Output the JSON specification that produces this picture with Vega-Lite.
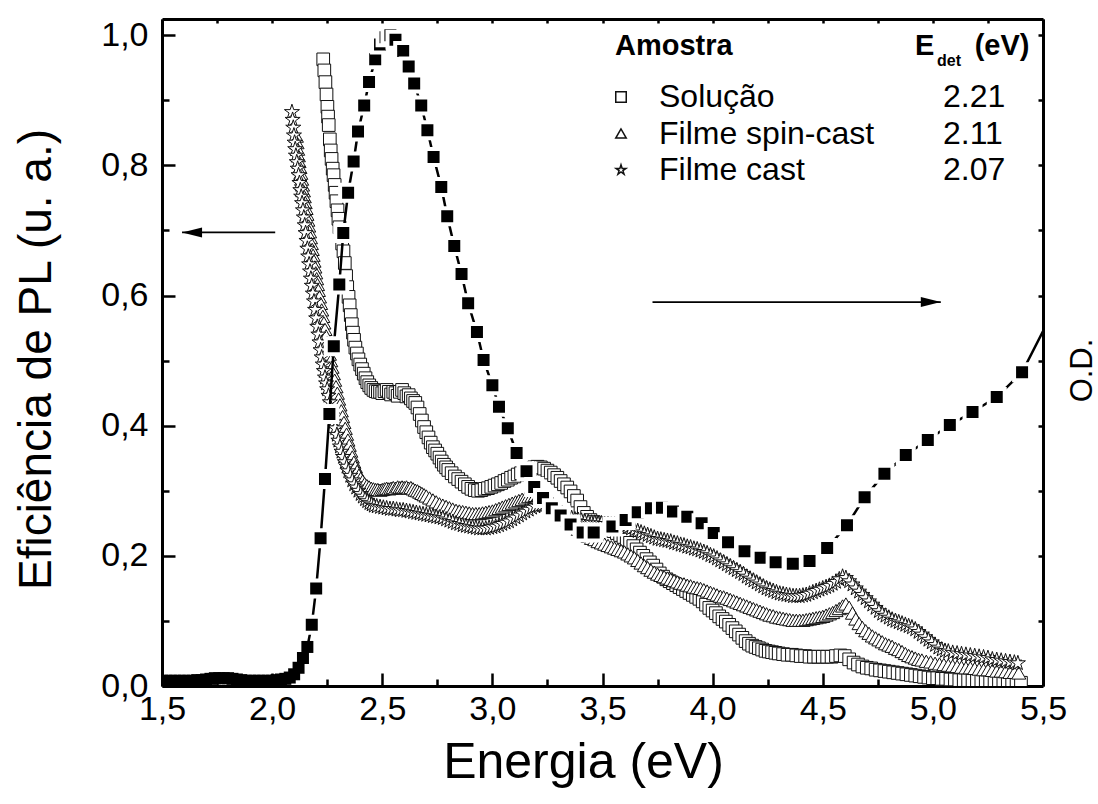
{
"$schema":"https://vega.github.io/schema/vega-lite/v6.json",
"width":881,"height":667,
"autosize":{"type":"none"},
"padding":{"left":162,"top":19,"right":55,"bottom":118},
"background":"white",
"title":{"text":"det","anchor":"start","frame":"group","orient":"top","offset":0,"dx":775,"dy":59,"fontSize":16,"fontWeight":"bold","baseline":"middle","color":"black","font":"Liberation Sans"},
"config":{"font":"Liberation Sans","view":{"stroke":null},"axis":{"grid":false,"domainColor":"black","tickColor":"black","labelColor":"black","titleColor":"black","domainWidth":3,"tickWidth":2.5,"labelFlush":false,"labelOverlap":false,"labelBound":false,"titleFontWeight":"normal"}},
"datasets":{
"sol":[{"x":2.232,"y":0.963},{"x":2.237,"y":0.946},{"x":2.242,"y":0.928},{"x":2.247,"y":0.909},{"x":2.251,"y":0.89},{"x":2.254,"y":0.875},{"x":2.257,"y":0.862},{"x":2.262,"y":0.84},{"x":2.266,"y":0.823},{"x":2.27,"y":0.81},{"x":2.275,"y":0.795},{"x":2.279,"y":0.785},{"x":2.284,"y":0.77},{"x":2.288,"y":0.758},{"x":2.292,"y":0.745},{"x":2.297,"y":0.731},{"x":2.301,"y":0.718},{"x":2.306,"y":0.705},{"x":2.312,"y":0.692},{"x":2.318,"y":0.68},{"x":2.324,"y":0.668},{"x":2.33,"y":0.65},{"x":2.336,"y":0.63},{"x":2.341,"y":0.613},{"x":2.347,"y":0.598},{"x":2.352,"y":0.585},{"x":2.357,"y":0.57},{"x":2.362,"y":0.556},{"x":2.367,"y":0.543},{"x":2.372,"y":0.532},{"x":2.378,"y":0.52},{"x":2.385,"y":0.511},{"x":2.392,"y":0.502},{"x":2.4,"y":0.494},{"x":2.408,"y":0.487},{"x":2.416,"y":0.48},{"x":2.424,"y":0.473},{"x":2.432,"y":0.467},{"x":2.441,"y":0.462},{"x":2.45,"y":0.458},{"x":2.46,"y":0.455},{"x":2.47,"y":0.453},{"x":2.48,"y":0.452},{"x":2.49,"y":0.452},{"x":2.5,"y":0.45},{"x":2.51,"y":0.453},{"x":2.52,"y":0.455},{"x":2.53,"y":0.452},{"x":2.54,"y":0.448},{"x":2.55,"y":0.452},{"x":2.56,"y":0.45},{"x":2.57,"y":0.446},{"x":2.58,"y":0.452},{"x":2.59,"y":0.455},{"x":2.6,"y":0.45},{"x":2.61,"y":0.445},{"x":2.62,"y":0.447},{"x":2.63,"y":0.442},{"x":2.64,"y":0.438},{"x":2.65,"y":0.435},{"x":2.66,"y":0.428},{"x":2.67,"y":0.418},{"x":2.68,"y":0.408},{"x":2.69,"y":0.398},{"x":2.7,"y":0.39},{"x":2.71,"y":0.382},{"x":2.72,"y":0.374},{"x":2.73,"y":0.367},{"x":2.74,"y":0.362},{"x":2.75,"y":0.357},{"x":2.76,"y":0.351},{"x":2.77,"y":0.345},{"x":2.78,"y":0.34},{"x":2.79,"y":0.336},{"x":2.8,"y":0.332},{"x":2.815,"y":0.327},{"x":2.83,"y":0.322},{"x":2.845,"y":0.318},{"x":2.86,"y":0.314},{"x":2.875,"y":0.31},{"x":2.89,"y":0.306},{"x":2.905,"y":0.303},{"x":2.92,"y":0.301},{"x":2.935,"y":0.3},{"x":2.95,"y":0.301},{"x":2.965,"y":0.303},{"x":2.98,"y":0.304},{"x":2.995,"y":0.306},{"x":3.01,"y":0.308},{"x":3.025,"y":0.31},{"x":3.04,"y":0.312},{"x":3.055,"y":0.315},{"x":3.07,"y":0.317},{"x":3.085,"y":0.32},{"x":3.1,"y":0.322},{"x":3.115,"y":0.325},{"x":3.13,"y":0.327},{"x":3.145,"y":0.33},{"x":3.16,"y":0.332},{"x":3.175,"y":0.334},{"x":3.19,"y":0.336},{"x":3.205,"y":0.337},{"x":3.22,"y":0.336},{"x":3.235,"y":0.334},{"x":3.25,"y":0.331},{"x":3.265,"y":0.328},{"x":3.28,"y":0.324},{"x":3.295,"y":0.32},{"x":3.31,"y":0.315},{"x":3.325,"y":0.31},{"x":3.34,"y":0.305},{"x":3.355,"y":0.299},{"x":3.37,"y":0.292},{"x":3.385,"y":0.285},{"x":3.4,"y":0.275},{"x":3.415,"y":0.266},{"x":3.43,"y":0.26},{"x":3.445,"y":0.255},{"x":3.46,"y":0.252},{"x":3.475,"y":0.25},{"x":3.49,"y":0.248},{"x":3.505,"y":0.246},{"x":3.52,"y":0.244},{"x":3.535,"y":0.241},{"x":3.55,"y":0.238},{"x":3.565,"y":0.235},{"x":3.58,"y":0.232},{"x":3.595,"y":0.229},{"x":3.61,"y":0.225},{"x":3.625,"y":0.22},{"x":3.64,"y":0.215},{"x":3.655,"y":0.21},{"x":3.67,"y":0.205},{"x":3.685,"y":0.2},{"x":3.7,"y":0.195},{"x":3.715,"y":0.19},{"x":3.73,"y":0.185},{"x":3.745,"y":0.179},{"x":3.76,"y":0.173},{"x":3.775,"y":0.168},{"x":3.79,"y":0.164},{"x":3.805,"y":0.161},{"x":3.82,"y":0.158},{"x":3.835,"y":0.155},{"x":3.85,"y":0.152},{"x":3.865,"y":0.149},{"x":3.88,"y":0.146},{"x":3.895,"y":0.143},{"x":3.91,"y":0.14},{"x":3.925,"y":0.137},{"x":3.94,"y":0.134},{"x":3.955,"y":0.13},{"x":3.97,"y":0.125},{"x":3.985,"y":0.12},{"x":4.0,"y":0.116},{"x":4.015,"y":0.112},{"x":4.03,"y":0.107},{"x":4.045,"y":0.103},{"x":4.06,"y":0.099},{"x":4.075,"y":0.094},{"x":4.09,"y":0.089},{"x":4.105,"y":0.084},{"x":4.12,"y":0.079},{"x":4.135,"y":0.074},{"x":4.15,"y":0.069},{"x":4.165,"y":0.065},{"x":4.18,"y":0.062},{"x":4.195,"y":0.06},{"x":4.21,"y":0.058},{"x":4.225,"y":0.056},{"x":4.24,"y":0.054},{"x":4.255,"y":0.053},{"x":4.27,"y":0.052},{"x":4.285,"y":0.051},{"x":4.3,"y":0.05},{"x":4.32,"y":0.049},{"x":4.34,"y":0.048},{"x":4.36,"y":0.048},{"x":4.38,"y":0.047},{"x":4.4,"y":0.046},{"x":4.42,"y":0.046},{"x":4.44,"y":0.045},{"x":4.46,"y":0.045},{"x":4.48,"y":0.045},{"x":4.5,"y":0.045},{"x":4.52,"y":0.045},{"x":4.54,"y":0.045},{"x":4.56,"y":0.046},{"x":4.58,"y":0.047},{"x":4.6,"y":0.046},{"x":4.62,"y":0.041},{"x":4.64,"y":0.036},{"x":4.66,"y":0.033},{"x":4.68,"y":0.03},{"x":4.7,"y":0.028},{"x":4.72,"y":0.027},{"x":4.74,"y":0.025},{"x":4.76,"y":0.024},{"x":4.78,"y":0.023},{"x":4.8,"y":0.022},{"x":4.82,"y":0.021},{"x":4.84,"y":0.02},{"x":4.86,"y":0.019},{"x":4.88,"y":0.018},{"x":4.9,"y":0.017},{"x":4.92,"y":0.016},{"x":4.94,"y":0.015},{"x":4.96,"y":0.014},{"x":4.98,"y":0.013},{"x":5.0,"y":0.012},{"x":5.02,"y":0.012},{"x":5.04,"y":0.011},{"x":5.06,"y":0.011},{"x":5.08,"y":0.01},{"x":5.1,"y":0.01},{"x":5.12,"y":0.009},{"x":5.14,"y":0.009},{"x":5.16,"y":0.009},{"x":5.18,"y":0.008},{"x":5.2,"y":0.008},{"x":5.22,"y":0.008},{"x":5.24,"y":0.007},{"x":5.26,"y":0.007},{"x":5.28,"y":0.007},{"x":5.3,"y":0.006},{"x":5.32,"y":0.006},{"x":5.34,"y":0.006},{"x":5.36,"y":0.005},{"x":5.38,"y":0.005},{"x":5.4,"y":0.005}],
"spin":[{"x":2.11,"y":0.845},{"x":2.113,"y":0.835},{"x":2.116,"y":0.825},{"x":2.119,"y":0.815},{"x":2.122,"y":0.806},{"x":2.126,"y":0.797},{"x":2.13,"y":0.788},{"x":2.134,"y":0.779},{"x":2.138,"y":0.77},{"x":2.142,"y":0.761},{"x":2.146,"y":0.752},{"x":2.15,"y":0.743},{"x":2.154,"y":0.734},{"x":2.158,"y":0.725},{"x":2.162,"y":0.716},{"x":2.166,"y":0.707},{"x":2.17,"y":0.698},{"x":2.174,"y":0.689},{"x":2.178,"y":0.68},{"x":2.182,"y":0.671},{"x":2.186,"y":0.662},{"x":2.19,"y":0.653},{"x":2.194,"y":0.644},{"x":2.198,"y":0.635},{"x":2.202,"y":0.626},{"x":2.206,"y":0.617},{"x":2.21,"y":0.608},{"x":2.215,"y":0.598},{"x":2.22,"y":0.588},{"x":2.225,"y":0.578},{"x":2.23,"y":0.568},{"x":2.235,"y":0.558},{"x":2.24,"y":0.548},{"x":2.245,"y":0.538},{"x":2.25,"y":0.528},{"x":2.255,"y":0.519},{"x":2.26,"y":0.51},{"x":2.266,"y":0.5},{"x":2.272,"y":0.49},{"x":2.278,"y":0.48},{"x":2.284,"y":0.47},{"x":2.29,"y":0.46},{"x":2.296,"y":0.45},{"x":2.302,"y":0.441},{"x":2.308,"y":0.432},{"x":2.314,"y":0.423},{"x":2.32,"y":0.414},{"x":2.326,"y":0.405},{"x":2.332,"y":0.396},{"x":2.338,"y":0.387},{"x":2.344,"y":0.378},{"x":2.35,"y":0.37},{"x":2.357,"y":0.361},{"x":2.364,"y":0.352},{"x":2.371,"y":0.344},{"x":2.378,"y":0.337},{"x":2.386,"y":0.33},{"x":2.394,"y":0.324},{"x":2.402,"y":0.319},{"x":2.411,"y":0.315},{"x":2.42,"y":0.311},{"x":2.43,"y":0.308},{"x":2.44,"y":0.306},{"x":2.45,"y":0.304},{"x":2.46,"y":0.303},{"x":2.47,"y":0.302},{"x":2.48,"y":0.302},{"x":2.49,"y":0.301},{"x":2.5,"y":0.302},{"x":2.51,"y":0.303},{"x":2.52,"y":0.304},{"x":2.53,"y":0.303},{"x":2.54,"y":0.304},{"x":2.55,"y":0.305},{"x":2.56,"y":0.304},{"x":2.57,"y":0.306},{"x":2.58,"y":0.305},{"x":2.59,"y":0.306},{"x":2.6,"y":0.305},{"x":2.61,"y":0.306},{"x":2.62,"y":0.304},{"x":2.63,"y":0.305},{"x":2.64,"y":0.303},{"x":2.65,"y":0.301},{"x":2.66,"y":0.3},{"x":2.67,"y":0.298},{"x":2.68,"y":0.296},{"x":2.69,"y":0.294},{"x":2.7,"y":0.292},{"x":2.715,"y":0.289},{"x":2.73,"y":0.286},{"x":2.745,"y":0.283},{"x":2.76,"y":0.28},{"x":2.775,"y":0.278},{"x":2.79,"y":0.276},{"x":2.805,"y":0.274},{"x":2.82,"y":0.272},{"x":2.835,"y":0.27},{"x":2.85,"y":0.269},{"x":2.865,"y":0.268},{"x":2.88,"y":0.267},{"x":2.895,"y":0.266},{"x":2.91,"y":0.265},{"x":2.925,"y":0.265},{"x":2.94,"y":0.265},{"x":2.955,"y":0.266},{"x":2.97,"y":0.267},{"x":2.985,"y":0.268},{"x":3.0,"y":0.269},{"x":3.015,"y":0.271},{"x":3.03,"y":0.273},{"x":3.045,"y":0.275},{"x":3.06,"y":0.277},{"x":3.075,"y":0.279},{"x":3.09,"y":0.281},{"x":3.105,"y":0.283},{"x":3.12,"y":0.285},{"x":3.135,"y":0.287},{"x":3.15,"y":0.289},{"x":3.165,"y":0.291},{"x":3.18,"y":0.292},{"x":3.195,"y":0.293},{"x":3.21,"y":0.293},{"x":3.225,"y":0.292},{"x":3.24,"y":0.29},{"x":3.255,"y":0.287},{"x":3.27,"y":0.283},{"x":3.285,"y":0.278},{"x":3.3,"y":0.273},{"x":3.315,"y":0.267},{"x":3.33,"y":0.261},{"x":3.345,"y":0.255},{"x":3.36,"y":0.25},{"x":3.375,"y":0.245},{"x":3.39,"y":0.241},{"x":3.405,"y":0.237},{"x":3.42,"y":0.233},{"x":3.435,"y":0.23},{"x":3.45,"y":0.227},{"x":3.465,"y":0.225},{"x":3.48,"y":0.222},{"x":3.495,"y":0.22},{"x":3.51,"y":0.218},{"x":3.525,"y":0.216},{"x":3.54,"y":0.214},{"x":3.555,"y":0.212},{"x":3.57,"y":0.21},{"x":3.585,"y":0.208},{"x":3.6,"y":0.206},{"x":3.615,"y":0.203},{"x":3.63,"y":0.2},{"x":3.645,"y":0.197},{"x":3.66,"y":0.193},{"x":3.675,"y":0.189},{"x":3.69,"y":0.185},{"x":3.705,"y":0.182},{"x":3.72,"y":0.178},{"x":3.735,"y":0.175},{"x":3.75,"y":0.172},{"x":3.765,"y":0.17},{"x":3.78,"y":0.168},{"x":3.795,"y":0.166},{"x":3.81,"y":0.164},{"x":3.825,"y":0.162},{"x":3.84,"y":0.16},{"x":3.855,"y":0.158},{"x":3.87,"y":0.157},{"x":3.885,"y":0.155},{"x":3.9,"y":0.154},{"x":3.915,"y":0.152},{"x":3.93,"y":0.151},{"x":3.945,"y":0.15},{"x":3.96,"y":0.148},{"x":3.975,"y":0.146},{"x":3.99,"y":0.144},{"x":4.005,"y":0.142},{"x":4.02,"y":0.14},{"x":4.035,"y":0.138},{"x":4.05,"y":0.137},{"x":4.065,"y":0.135},{"x":4.08,"y":0.133},{"x":4.095,"y":0.131},{"x":4.11,"y":0.129},{"x":4.125,"y":0.127},{"x":4.14,"y":0.125},{"x":4.155,"y":0.123},{"x":4.17,"y":0.121},{"x":4.185,"y":0.119},{"x":4.2,"y":0.117},{"x":4.215,"y":0.115},{"x":4.23,"y":0.113},{"x":4.245,"y":0.111},{"x":4.26,"y":0.109},{"x":4.275,"y":0.108},{"x":4.29,"y":0.106},{"x":4.305,"y":0.105},{"x":4.32,"y":0.104},{"x":4.335,"y":0.103},{"x":4.35,"y":0.102},{"x":4.365,"y":0.101},{"x":4.38,"y":0.101},{"x":4.395,"y":0.101},{"x":4.41,"y":0.101},{"x":4.425,"y":0.102},{"x":4.44,"y":0.103},{"x":4.455,"y":0.104},{"x":4.47,"y":0.105},{"x":4.485,"y":0.106},{"x":4.5,"y":0.107},{"x":4.515,"y":0.109},{"x":4.53,"y":0.111},{"x":4.545,"y":0.113},{"x":4.56,"y":0.116},{"x":4.575,"y":0.119},{"x":4.59,"y":0.123},{"x":4.605,"y":0.126},{"x":4.62,"y":0.121},{"x":4.635,"y":0.112},{"x":4.65,"y":0.103},{"x":4.665,"y":0.096},{"x":4.68,"y":0.09},{"x":4.695,"y":0.085},{"x":4.71,"y":0.081},{"x":4.725,"y":0.077},{"x":4.74,"y":0.074},{"x":4.755,"y":0.071},{"x":4.77,"y":0.068},{"x":4.785,"y":0.065},{"x":4.8,"y":0.063},{"x":4.815,"y":0.061},{"x":4.83,"y":0.058},{"x":4.845,"y":0.056},{"x":4.86,"y":0.053},{"x":4.875,"y":0.05},{"x":4.89,"y":0.047},{"x":4.905,"y":0.045},{"x":4.92,"y":0.043},{"x":4.935,"y":0.041},{"x":4.95,"y":0.04},{"x":4.97,"y":0.038},{"x":4.99,"y":0.037},{"x":5.01,"y":0.035},{"x":5.03,"y":0.034},{"x":5.05,"y":0.033},{"x":5.07,"y":0.032},{"x":5.09,"y":0.031},{"x":5.11,"y":0.03},{"x":5.13,"y":0.029},{"x":5.15,"y":0.028},{"x":5.17,"y":0.028},{"x":5.19,"y":0.027},{"x":5.21,"y":0.026},{"x":5.23,"y":0.025},{"x":5.25,"y":0.025},{"x":5.27,"y":0.024},{"x":5.29,"y":0.023},{"x":5.31,"y":0.023},{"x":5.33,"y":0.022},{"x":5.35,"y":0.021},{"x":5.37,"y":0.021},{"x":5.39,"y":0.02}],
"cast":[{"x":2.09,"y":0.882},{"x":2.093,"y":0.87},{"x":2.096,"y":0.858},{"x":2.099,"y":0.846},{"x":2.102,"y":0.835},{"x":2.105,"y":0.825},{"x":2.108,"y":0.815},{"x":2.112,"y":0.805},{"x":2.116,"y":0.795},{"x":2.12,"y":0.785},{"x":2.124,"y":0.773},{"x":2.128,"y":0.762},{"x":2.132,"y":0.752},{"x":2.136,"y":0.742},{"x":2.14,"y":0.731},{"x":2.144,"y":0.72},{"x":2.148,"y":0.708},{"x":2.152,"y":0.696},{"x":2.156,"y":0.684},{"x":2.16,"y":0.672},{"x":2.164,"y":0.66},{"x":2.168,"y":0.648},{"x":2.172,"y":0.637},{"x":2.176,"y":0.626},{"x":2.18,"y":0.615},{"x":2.185,"y":0.603},{"x":2.19,"y":0.591},{"x":2.195,"y":0.578},{"x":2.2,"y":0.565},{"x":2.205,"y":0.552},{"x":2.21,"y":0.54},{"x":2.215,"y":0.528},{"x":2.22,"y":0.516},{"x":2.225,"y":0.505},{"x":2.23,"y":0.494},{"x":2.235,"y":0.484},{"x":2.24,"y":0.474},{"x":2.245,"y":0.465},{"x":2.25,"y":0.456},{"x":2.256,"y":0.446},{"x":2.262,"y":0.436},{"x":2.268,"y":0.426},{"x":2.274,"y":0.416},{"x":2.28,"y":0.406},{"x":2.287,"y":0.396},{"x":2.294,"y":0.386},{"x":2.301,"y":0.377},{"x":2.308,"y":0.368},{"x":2.315,"y":0.36},{"x":2.322,"y":0.352},{"x":2.33,"y":0.344},{"x":2.338,"y":0.337},{"x":2.346,"y":0.33},{"x":2.355,"y":0.323},{"x":2.364,"y":0.316},{"x":2.373,"y":0.31},{"x":2.382,"y":0.305},{"x":2.392,"y":0.3},{"x":2.402,"y":0.295},{"x":2.412,"y":0.291},{"x":2.422,"y":0.287},{"x":2.432,"y":0.284},{"x":2.442,"y":0.281},{"x":2.452,"y":0.279},{"x":2.462,"y":0.277},{"x":2.475,"y":0.276},{"x":2.49,"y":0.275},{"x":2.505,"y":0.274},{"x":2.52,"y":0.273},{"x":2.535,"y":0.272},{"x":2.55,"y":0.272},{"x":2.565,"y":0.271},{"x":2.58,"y":0.27},{"x":2.595,"y":0.27},{"x":2.61,"y":0.269},{"x":2.625,"y":0.268},{"x":2.64,"y":0.267},{"x":2.655,"y":0.266},{"x":2.67,"y":0.265},{"x":2.685,"y":0.264},{"x":2.7,"y":0.263},{"x":2.715,"y":0.262},{"x":2.73,"y":0.261},{"x":2.745,"y":0.26},{"x":2.76,"y":0.259},{"x":2.775,"y":0.258},{"x":2.79,"y":0.256},{"x":2.805,"y":0.254},{"x":2.82,"y":0.252},{"x":2.835,"y":0.25},{"x":2.85,"y":0.249},{"x":2.865,"y":0.247},{"x":2.88,"y":0.246},{"x":2.895,"y":0.245},{"x":2.91,"y":0.244},{"x":2.925,"y":0.243},{"x":2.94,"y":0.242},{"x":2.955,"y":0.242},{"x":2.97,"y":0.242},{"x":2.985,"y":0.243},{"x":3.0,"y":0.244},{"x":3.015,"y":0.245},{"x":3.03,"y":0.247},{"x":3.045,"y":0.249},{"x":3.06,"y":0.251},{"x":3.075,"y":0.253},{"x":3.09,"y":0.256},{"x":3.105,"y":0.259},{"x":3.12,"y":0.262},{"x":3.135,"y":0.265},{"x":3.15,"y":0.268},{"x":3.165,"y":0.271},{"x":3.18,"y":0.274},{"x":3.195,"y":0.276},{"x":3.21,"y":0.277},{"x":3.225,"y":0.278},{"x":3.24,"y":0.278},{"x":3.255,"y":0.277},{"x":3.27,"y":0.275},{"x":3.285,"y":0.272},{"x":3.3,"y":0.269},{"x":3.315,"y":0.266},{"x":3.33,"y":0.263},{"x":3.345,"y":0.26},{"x":3.36,"y":0.258},{"x":3.375,"y":0.256},{"x":3.39,"y":0.255},{"x":3.405,"y":0.254},{"x":3.42,"y":0.253},{"x":3.435,"y":0.252},{"x":3.45,"y":0.251},{"x":3.465,"y":0.251},{"x":3.48,"y":0.25},{"x":3.495,"y":0.25},{"x":3.51,"y":0.249},{"x":3.525,"y":0.249},{"x":3.54,"y":0.248},{"x":3.555,"y":0.248},{"x":3.57,"y":0.247},{"x":3.585,"y":0.246},{"x":3.6,"y":0.245},{"x":3.615,"y":0.244},{"x":3.63,"y":0.242},{"x":3.645,"y":0.24},{"x":3.66,"y":0.238},{"x":3.675,"y":0.236},{"x":3.69,"y":0.234},{"x":3.705,"y":0.232},{"x":3.72,"y":0.23},{"x":3.735,"y":0.228},{"x":3.75,"y":0.226},{"x":3.765,"y":0.225},{"x":3.78,"y":0.224},{"x":3.795,"y":0.223},{"x":3.81,"y":0.222},{"x":3.825,"y":0.22},{"x":3.84,"y":0.219},{"x":3.855,"y":0.217},{"x":3.87,"y":0.216},{"x":3.885,"y":0.214},{"x":3.9,"y":0.213},{"x":3.915,"y":0.211},{"x":3.93,"y":0.21},{"x":3.945,"y":0.208},{"x":3.96,"y":0.206},{"x":3.975,"y":0.204},{"x":3.99,"y":0.201},{"x":4.005,"y":0.199},{"x":4.02,"y":0.196},{"x":4.035,"y":0.193},{"x":4.05,"y":0.19},{"x":4.065,"y":0.187},{"x":4.08,"y":0.184},{"x":4.095,"y":0.181},{"x":4.11,"y":0.178},{"x":4.125,"y":0.175},{"x":4.14,"y":0.172},{"x":4.155,"y":0.168},{"x":4.17,"y":0.165},{"x":4.185,"y":0.162},{"x":4.2,"y":0.159},{"x":4.215,"y":0.156},{"x":4.23,"y":0.153},{"x":4.245,"y":0.15},{"x":4.26,"y":0.148},{"x":4.275,"y":0.146},{"x":4.29,"y":0.144},{"x":4.305,"y":0.142},{"x":4.32,"y":0.141},{"x":4.335,"y":0.14},{"x":4.35,"y":0.139},{"x":4.365,"y":0.138},{"x":4.38,"y":0.138},{"x":4.395,"y":0.138},{"x":4.41,"y":0.139},{"x":4.425,"y":0.14},{"x":4.44,"y":0.142},{"x":4.455,"y":0.144},{"x":4.47,"y":0.146},{"x":4.485,"y":0.148},{"x":4.5,"y":0.15},{"x":4.515,"y":0.152},{"x":4.53,"y":0.154},{"x":4.545,"y":0.157},{"x":4.56,"y":0.16},{"x":4.575,"y":0.164},{"x":4.59,"y":0.168},{"x":4.605,"y":0.166},{"x":4.62,"y":0.161},{"x":4.635,"y":0.156},{"x":4.65,"y":0.15},{"x":4.665,"y":0.145},{"x":4.68,"y":0.14},{"x":4.695,"y":0.135},{"x":4.71,"y":0.13},{"x":4.725,"y":0.125},{"x":4.74,"y":0.12},{"x":4.755,"y":0.115},{"x":4.77,"y":0.111},{"x":4.785,"y":0.108},{"x":4.8,"y":0.105},{"x":4.815,"y":0.102},{"x":4.83,"y":0.1},{"x":4.845,"y":0.098},{"x":4.86,"y":0.096},{"x":4.875,"y":0.094},{"x":4.89,"y":0.092},{"x":4.905,"y":0.09},{"x":4.92,"y":0.087},{"x":4.935,"y":0.083},{"x":4.95,"y":0.079},{"x":4.965,"y":0.075},{"x":4.98,"y":0.071},{"x":4.995,"y":0.067},{"x":5.01,"y":0.063},{"x":5.025,"y":0.059},{"x":5.04,"y":0.056},{"x":5.055,"y":0.054},{"x":5.07,"y":0.053},{"x":5.09,"y":0.051},{"x":5.11,"y":0.05},{"x":5.13,"y":0.049},{"x":5.15,"y":0.048},{"x":5.17,"y":0.047},{"x":5.19,"y":0.046},{"x":5.21,"y":0.045},{"x":5.23,"y":0.044},{"x":5.25,"y":0.043},{"x":5.27,"y":0.041},{"x":5.29,"y":0.04},{"x":5.31,"y":0.039},{"x":5.33,"y":0.038},{"x":5.35,"y":0.037},{"x":5.37,"y":0.036},{"x":5.386,"y":0.035}],
"od":[{"x":1.5,"y":0.008},{"x":1.52,"y":0.008},{"x":1.54,"y":0.008},{"x":1.56,"y":0.008},{"x":1.58,"y":0.008},{"x":1.6,"y":0.008},{"x":1.62,"y":0.008},{"x":1.64,"y":0.008},{"x":1.66,"y":0.009},{"x":1.68,"y":0.009},{"x":1.7,"y":0.01},{"x":1.72,"y":0.011},{"x":1.74,"y":0.012},{"x":1.76,"y":0.012},{"x":1.78,"y":0.012},{"x":1.8,"y":0.012},{"x":1.82,"y":0.011},{"x":1.84,"y":0.01},{"x":1.86,"y":0.009},{"x":1.88,"y":0.008},{"x":1.9,"y":0.008},{"x":1.92,"y":0.008},{"x":1.94,"y":0.008},{"x":1.96,"y":0.008},{"x":1.98,"y":0.008},{"x":2.0,"y":0.008},{"x":2.02,"y":0.009},{"x":2.04,"y":0.01},{"x":2.06,"y":0.011},{"x":2.08,"y":0.013},{"x":2.1,"y":0.018},{"x":2.12,"y":0.028},{"x":2.14,"y":0.043},{"x":2.16,"y":0.06},{"x":2.18,"y":0.094},{"x":2.2,"y":0.15},{"x":2.22,"y":0.227},{"x":2.24,"y":0.318},{"x":2.26,"y":0.418},{"x":2.28,"y":0.522},{"x":2.305,"y":0.617},{"x":2.323,"y":0.696},{"x":2.345,"y":0.758},{"x":2.37,"y":0.806},{"x":2.39,"y":0.852},{"x":2.418,"y":0.892},{"x":2.44,"y":0.928},{"x":2.468,"y":0.963},{"x":2.49,"y":0.986},{"x":2.515,"y":0.997},{"x":2.537,"y":1.0},{"x":2.56,"y":0.993},{"x":2.595,"y":0.976},{"x":2.62,"y":0.952},{"x":2.645,"y":0.926},{"x":2.677,"y":0.892},{"x":2.705,"y":0.854},{"x":2.733,"y":0.813},{"x":2.768,"y":0.767},{"x":2.795,"y":0.722},{"x":2.827,"y":0.676},{"x":2.86,"y":0.633},{"x":2.89,"y":0.588},{"x":2.93,"y":0.544},{"x":2.96,"y":0.501},{"x":3.0,"y":0.462},{"x":3.03,"y":0.429},{"x":3.07,"y":0.396},{"x":3.11,"y":0.358},{"x":3.155,"y":0.33},{"x":3.19,"y":0.306},{"x":3.23,"y":0.289},{"x":3.27,"y":0.273},{"x":3.31,"y":0.262},{"x":3.355,"y":0.248},{"x":3.41,"y":0.236},{"x":3.46,"y":0.236},{"x":3.545,"y":0.245},{"x":3.605,"y":0.255},{"x":3.66,"y":0.267},{"x":3.72,"y":0.273},{"x":3.77,"y":0.274},{"x":3.82,"y":0.268},{"x":3.885,"y":0.26},{"x":3.95,"y":0.25},{"x":4.005,"y":0.235},{"x":4.07,"y":0.221},{"x":4.145,"y":0.207},{"x":4.218,"y":0.197},{"x":4.286,"y":0.19},{"x":4.364,"y":0.188},{"x":4.44,"y":0.192},{"x":4.52,"y":0.212},{"x":4.61,"y":0.247},{"x":4.69,"y":0.29},{"x":4.78,"y":0.326},{"x":4.877,"y":0.355},{"x":4.977,"y":0.378},{"x":5.077,"y":0.401},{"x":5.18,"y":0.421},{"x":5.29,"y":0.444},{"x":5.405,"y":0.482},{"x":5.56,"y":0.585}],
"arrows":[{"a":"left","x":2.014,"x2":1.591,"y":0.697},{"a":"right","x":3.727,"x2":5.036,"y":0.59}]
},
"layer":[
{"data":{"name":"sol"},"mark":{"type":"point","filled":true,"stroke":"#111","strokeWidth":1,"size":160,"opacity":1,"clip":true},
 "encoding":{"x":{"field":"x","type":"quantitative","scale":{"domain":[1.5,5.5],"nice":false,"zero":false},"axis":null},
 "y":{"field":"y","type":"quantitative","scale":{"domain":[0,1.025],"nice":false,"zero":false},"axis":null},
 "shape":{"datum":"Solução","type":"nominal","scale":{"domain":["Solução","Filme spin-cast","Filme cast"],"range":["square","triangle-up","M0,-1L0.2245,-0.309L0.951,-0.309L0.363,0.118L0.588,0.809L0,0.382L-0.588,0.809L-0.363,0.118L-0.951,-0.309L-0.2245,-0.309Z"]},
   "legend":{"title":"Amostra","orient":"none","legendX":453,"legendY":13,"padding":0,"titleFontSize":29,"titleFontWeight":"bold","titleColor":"black","titlePadding":20,"labelFontSize":32,"labelColor":"black","labelOffset":22,"labelLimit":500,"symbolSize":110,"symbolOffset":-10,"rowPadding":4.5,
   "encode":{"symbols":{"update":{"fill":{"value":"white"},"stroke":{"value":"black"},"strokeWidth":{"value":1},"opacity":{"value":1}}}}}},
 "fill":{"datum":"2.21","type":"nominal","scale":{"domain":["2.21","2.11","2.07"],"range":["white","white","white"]},
   "legend":{"title":"E\u00a0\u00a0\u00a0\u00a0\u00a0(eV)","orient":"none","legendX":753,"legendY":13,"padding":0,"titleFontSize":29,"titleFontWeight":"bold","titleColor":"black","titlePadding":20,"labelFontSize":32,"labelColor":"black","labelOffset":-4,"symbolSize":1,"symbolStrokeWidth":0,"symbolFillColor":"transparent","symbolStrokeColor":"transparent","rowPadding":4.5,
   "encode":{"symbols":{"update":{"opacity":{"value":0},"fillOpacity":{"value":0},"strokeOpacity":{"value":0},"strokeWidth":{"value":0},"fill":{"value":"transparent"},"stroke":{"value":"transparent"}}}}}}}},
{"data":{"name":"spin"},"mark":{"type":"point","filled":true,"stroke":"#111","strokeWidth":1,"size":200,"opacity":1,"clip":true},
 "encoding":{"x":{"field":"x","type":"quantitative","axis":null},"y":{"field":"y","type":"quantitative","axis":null},
 "shape":{"datum":"Filme spin-cast","type":"nominal"},"fill":{"datum":"2.11","type":"nominal"}}},
{"data":{"name":"cast"},"mark":{"type":"point","filled":true,"stroke":"#111","strokeWidth":1,"size":250,"opacity":1,"clip":true},
 "encoding":{"x":{"field":"x","type":"quantitative","axis":null},"y":{"field":"y","type":"quantitative","axis":null},
 "shape":{"datum":"Filme cast","type":"nominal"},"fill":{"datum":"2.07","type":"nominal"}}},
{"data":{"name":"od"},"mark":{"type":"line","color":"black","strokeWidth":2.5,"clip":true},
 "encoding":{"x":{"field":"x","type":"quantitative","axis":{"orient":"bottom","values":[1.5,1.75,2,2.25,2.5,2.75,3,3.25,3.5,3.75,4,4.25,4.5,4.75,5,5.25,5.5],"labelExpr":"abs(datum.value*2-round(datum.value*2))<0.01 ? replace(format(datum.value,'.1f'),'.',',') : ''","tickSize":{"condition":{"test":"abs(datum.value*2-round(datum.value*2))<0.01","value":-13},"value":-7},"labelFontSize":34,"labelPadding":19,"title":"Energia (eV)","titleFontSize":50,"titleX":421,"titleY":76,"titleBaseline":"middle"}},
 "y":{"field":"y","type":"quantitative","axis":{"orient":"left","values":[0,0.1,0.2,0.3,0.4,0.5,0.6,0.7,0.8,0.9,1.0],"labelExpr":"abs(datum.value*5-round(datum.value*5))<0.01 ? replace(format(datum.value,'.1f'),'.',',') : ''","tickSize":{"condition":{"test":"abs(datum.value*5-round(datum.value*5))<0.01","value":-13},"value":-7},"labelFontSize":34,"labelPadding":27,"labelBaseline":"middle","title":"Eficiência de PL (u. a.)","titleFontSize":46,"titleAngle":270,"titleBaseline":"middle","titleX":-126,"titleY":340}}}},
{"data":{"name":"od"},"transform":[{"filter":"datum.x < 2.17"}],"mark":{"type":"point","shape":"square","filled":true,"color":"black","size":144,"clip":true,"opacity":1},
 "encoding":{"x":{"field":"x","type":"quantitative","axis":null},"y":{"field":"y","type":"quantitative","axis":null}}},
{"data":{"name":"od"},"transform":[{"filter":"datum.x >= 2.17"}],"mark":{"type":"point","shape":"square","filled":true,"fill":"black","stroke":"white","strokeWidth":4,"size":256,"clip":true,"opacity":1},
 "encoding":{"x":{"field":"x","type":"quantitative","axis":null},"y":{"field":"y","type":"quantitative","axis":null}}},
{"data":{"name":"arrows"},"mark":{"type":"rule","color":"black","strokeWidth":1.8},
 "encoding":{"x":{"field":"x","type":"quantitative","axis":{"orient":"top","values":[1.5,1.75,2,2.25,2.5,2.75,3,3.25,3.5,3.75,4,4.25,4.5,4.75,5,5.25,5.5],"labels":false,"tickSize":-4,"title":null}},"x2":{"field":"x2"},
 "y":{"field":"y","type":"quantitative","axis":{"orient":"right","values":[0.1,0.2,0.3,0.4,0.5,0.6,0.7,0.8,0.9,1.0],"labels":false,"tickSize":-5,"title":"O.D.","titleFontSize":31,"titleAngle":270,"titleBaseline":"middle","titleX":39,"titleY":351}}}},
{"data":{"name":"arrows"},"transform":[{"filter":"datum.a == 'left'"}],"mark":{"type":"point","filled":true,"color":"black","size":1600,"opacity":1,"shape":"M0,0L1,-0.25L1,0.25Z"},
 "encoding":{"x":{"field":"x2","type":"quantitative","axis":null},"y":{"field":"y","type":"quantitative","axis":null}}},
{"data":{"name":"arrows"},"transform":[{"filter":"datum.a == 'right'"}],"mark":{"type":"point","filled":true,"color":"black","size":1600,"opacity":1,"shape":"M0,0L-1,-0.25L-1,0.25Z"},
 "encoding":{"x":{"field":"x2","type":"quantitative","axis":null},"y":{"field":"y","type":"quantitative","axis":null}}}
],
"resolve":{"axis":{"x":"independent","y":"independent"}}
}
